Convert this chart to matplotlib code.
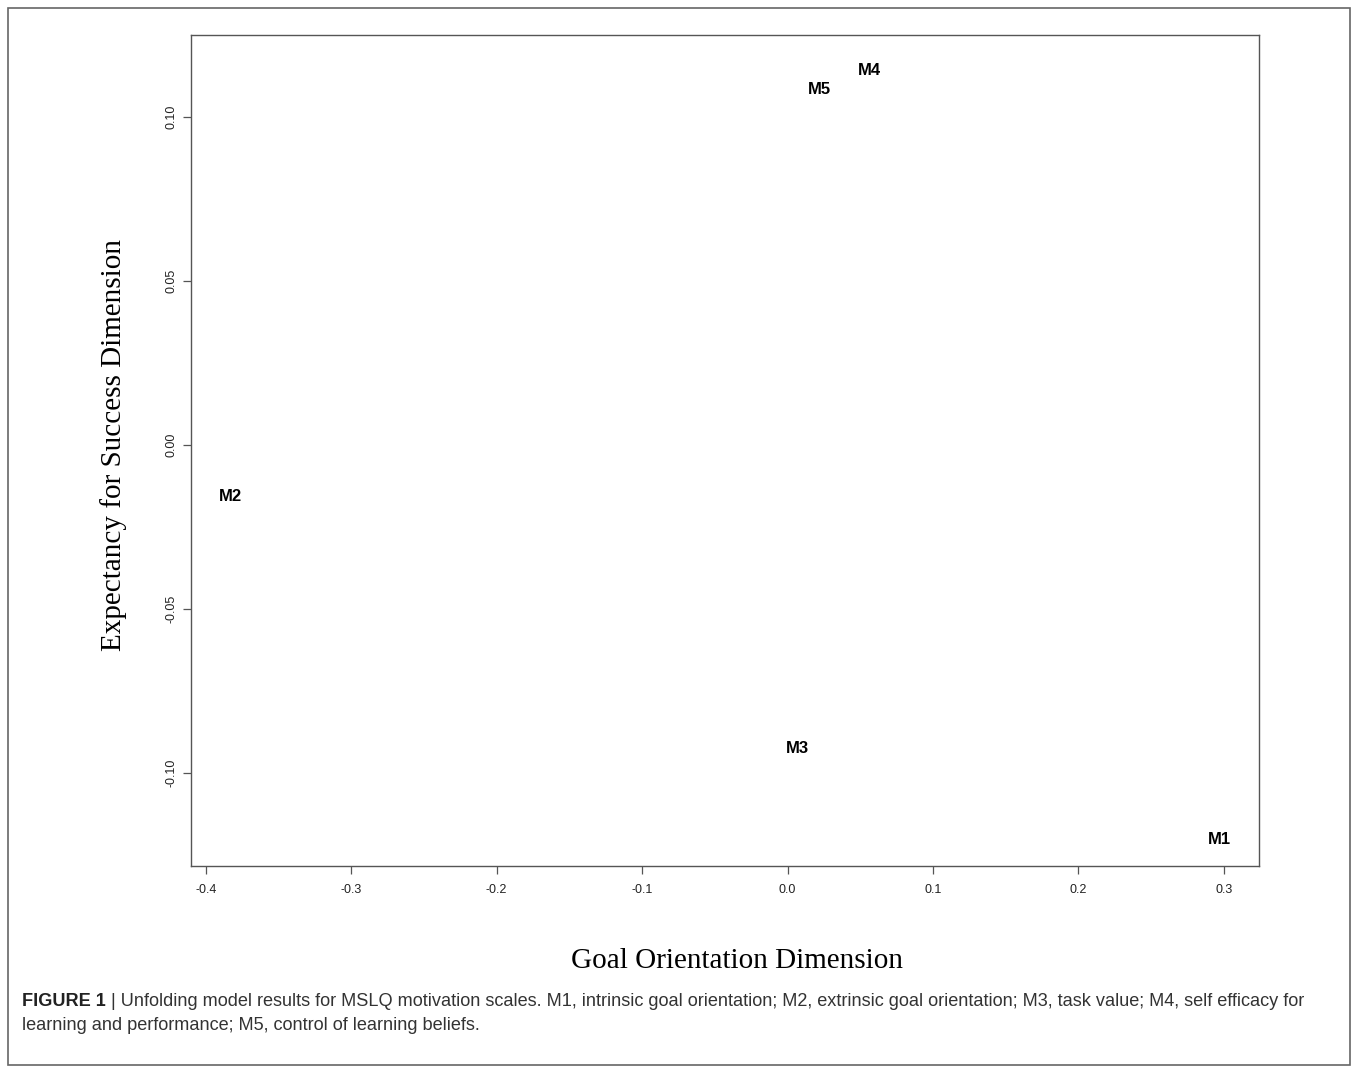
import matplotlib
matplotlib.use("Agg")
import matplotlib.pyplot as plt
from matplotlib.patches import Rectangle

# unfolding coordinates of the five motivation scales
labels = ["M1", "M2", "M3", "M4", "M5"]
goal = [0.297, -0.383, 0.007, 0.056, 0.022]
expect = [-0.1198, -0.0152, -0.092, 0.1146, 0.1088]

xticks = [-0.4, -0.3, -0.2, -0.1, 0.0, 0.1, 0.2, 0.3]
yticks = [-0.10, -0.05, 0.00, 0.05, 0.10]

W, H = 1358, 1072
fig = plt.figure(figsize=(W / 100, H / 100), dpi=100)

# outer figure frame
fig.patches.append(Rectangle((8 / W, 1 - 1065 / H), 1342 / W, 1057 / H,
                             transform=fig.transFigure, fill=False,
                             edgecolor="#666666", linewidth=1.2))

ax = fig.add_axes([191 / W, 1 - 866 / H, 1068 / W, 831 / H])
for lab, x, y in zip(labels, goal, expect):
    ax.text(x, y, lab, ha="center", va="center_baseline", fontsize=12,
            fontweight="bold", family="Liberation Sans")

pad_x = 0.04 * (max(goal) - min(goal))
ax.set_xlim(min(goal) - pad_x, max(goal) + pad_x)
ax.set_ylim(-0.1284, 0.125)

ax.set_xticks(xticks)
ax.set_xticklabels(["%.1f" % t for t in xticks])
ax.set_yticks(yticks)
ax.set_yticklabels(["%.2f" % t for t in yticks], rotation=90, va="center")
ax.tick_params(length=6, width=0.9, color="#555555", labelcolor="#222222",
               labelsize=9, pad=7)
ax.tick_params(axis="y", pad=4)
for lbl in ax.get_xticklabels() + ax.get_yticklabels():
    lbl.set_family("Liberation Sans")
for s in ax.spines.values():
    s.set_color("#555555")
    s.set_linewidth(1.0)

fig.text(737 / W, 1 - 961 / H, "Goal Orientation Dimension", ha="center",
         va="center", fontsize=21, family="Liberation Serif")
fig.text(114 / W, 1 - 445 / H, "Expectancy for Success Dimension", ha="center",
         va="center", rotation=90, fontsize=21, family="Liberation Serif")

# caption
cap_size = 13.1
r = fig.canvas.get_renderer()
t1 = fig.text(22 / W, 1 - 1001 / H, "FIGURE 1", fontsize=cap_size,
              fontweight="bold", family="Liberation Sans", va="center",
              color="#222222")
bb = t1.get_window_extent(renderer=r)
fig.text(bb.x1 / W, 1 - 1001 / H,
         " | Unfolding model results for MSLQ motivation scales. M1, intrinsic goal "
         "orientation; M2, extrinsic goal orientation; M3, task value; M4, self efficacy for",
         fontsize=cap_size, family="Liberation Sans", va="center", color="#333333")
fig.text(22 / W, 1 - 1026 / H, "learning and performance; M5, control of learning beliefs.",
         fontsize=cap_size, family="Liberation Sans", va="center", color="#333333")

fig.savefig("out.png", dpi=100)
